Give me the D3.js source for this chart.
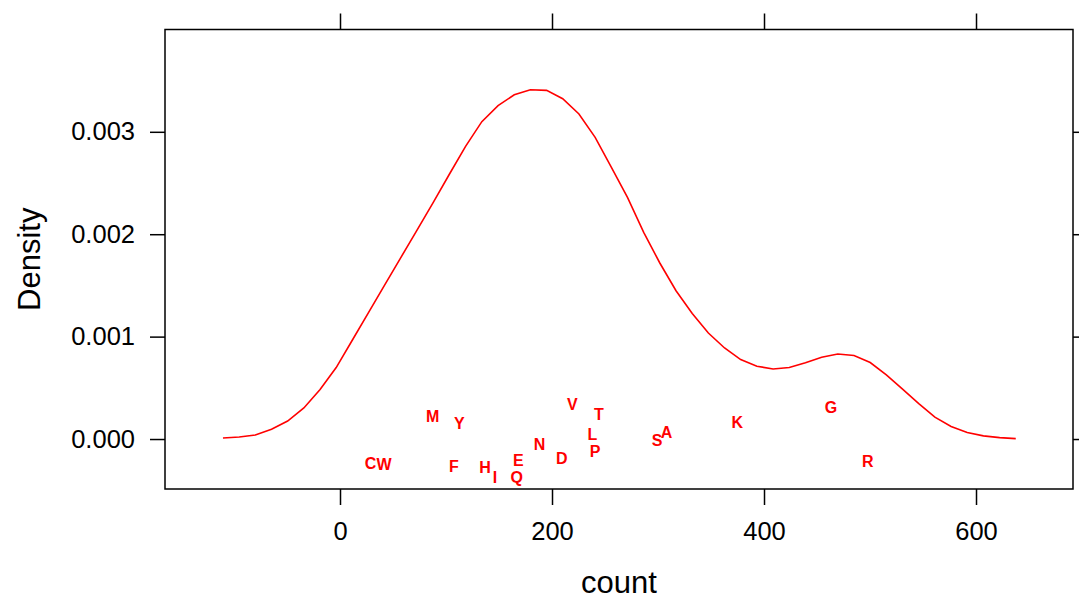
<!DOCTYPE html>
<html>
<head>
<meta charset="utf-8">
<script src="https://cdn.jsdelivr.net/npm/d3@7"></script>
<style>
  html, body { margin: 0; padding: 0; background: #fff; }
  text { font-family: "Liberation Sans", Arial, Helvetica, sans-serif; }
</style>
</head>
<body>
<div id="chart"></div>
<script>
// density curve (count, density)
const curveCount = [
  -110.4, -95.1, -79.9, -64.6, -49.4, -34.1, -18.8, -3.6, 11.7, 27.0,
  42.2, 57.5, 72.8, 88.0, 103.3, 118.6, 133.8, 149.1, 164.4, 179.6,
  194.9, 210.1, 225.4, 240.7, 255.9, 271.2, 286.5, 301.7, 317.0, 332.3,
  347.5, 362.8, 378.0, 393.3, 408.6, 423.8, 439.1, 454.4, 469.6, 484.9,
  500.2, 515.4, 530.7, 546.0, 561.2, 576.5, 591.7, 607.0, 622.3, 637.5
];
const curveDensity = [
  0.00001, 0.00002, 0.00004, 0.000095, 0.000176, 0.000303, 0.000483, 0.000698, 0.000967, 0.001237,
  0.001506, 0.001774, 0.002043, 0.00231, 0.002588, 0.00286, 0.003099, 0.003255, 0.003362, 0.003411,
  0.003405, 0.003323, 0.003174, 0.002946, 0.002656, 0.002359, 0.002018, 0.001719, 0.001448, 0.001226,
  0.001035, 0.000889, 0.000776, 0.000711, 0.000684, 0.000699, 0.000745, 0.000799, 0.00083, 0.000815,
  0.000747, 0.000627, 0.000488, 0.000346, 0.000213, 0.000122, 0.000063, 0.000031, 0.000014, 0.000004
];

// labelled points (letter, count, jittered height)
const letters = ['C', 'W', 'M', 'Y', 'F', 'H', 'I', 'Q', 'E', 'N', 'D', 'V', 'T', 'L', 'P', 'S', 'A', 'K', 'G', 'R'];
const letterCount = [28.8, 41.6, 87.5, 112.6, 107.5, 136.8, 146.2, 166.7, 168.2, 188.2,
  209.2, 219.2, 244.3, 238.0, 240.6, 299.2, 308.0, 374.8, 463.2, 497.8];
const letterJitter = [-0.000238, -0.000245, 0.000225, 0.000153, -0.00027, -0.00028, -0.000374, -0.000378, -0.000205, -0.000049,
  -0.000189, 0.000342, 0.000241, 0.000046, -0.000124, -0.00001, 0.000065, 0.000163, 0.00031, -0.000215];

const xTicks = [0, 200, 400, 600];
const yTicks = [0, 0.001, 0.002, 0.003];

const WIDTH = 1079;
const HEIGHT = 601;
const LEFT = 165;
const RIGHT = 1073;
const TOP = 29.5;
const BOTTOM = 489;

const svg = d3.create('svg').attr('width', WIDTH).attr('height', HEIGHT);

const xScale = d3.scaleLinear().domain([-165.1, 691.5]).range([LEFT, RIGHT]);
const yScale = d3.scaleLinear().domain([-0.000488, 0.003999]).range([BOTTOM, TOP]);

const tickFont = '25.5px';

const styleAxis = (g) => {
  g.select('.domain').remove();
  g.selectAll('.tick line').attr('stroke', '#000').attr('stroke-width', 1.5);
  g.selectAll('.tick text').attr('fill', '#000').style('font-size', tickFont);
};

svg.append('g')
  .attr('transform', `translate(${LEFT}, 0)`)
  .call(d3.axisLeft(yScale).tickValues(yTicks).tickFormat(d3.format('.3f')).tickSize(15).tickPadding(15))
  .call(styleAxis);

svg.append('g')
  .attr('transform', `translate(0, ${BOTTOM})`)
  .call(d3.axisBottom(xScale).tickValues(xTicks).tickFormat(d3.format('d')).tickSize(16).tickPadding(17))
  .call(styleAxis);

svg.append('g')
  .attr('transform', `translate(0, ${TOP})`)
  .call(d3.axisTop(xScale).tickValues(xTicks).tickFormat('').tickSize(16))
  .call(styleAxis);

svg.append('g')
  .attr('transform', `translate(${RIGHT}, 0)`)
  .call(d3.axisRight(yScale).tickValues(yTicks).tickFormat('').tickSize(16))
  .call(styleAxis);

svg.append('rect')
  .attr('x', LEFT)
  .attr('y', TOP)
  .attr('width', RIGHT - LEFT)
  .attr('height', BOTTOM - TOP)
  .attr('fill', 'none')
  .attr('stroke', '#000')
  .attr('stroke-width', 1.5);

const line = d3.line()
  .x((d, i) => xScale(curveCount[i]))
  .y((d) => yScale(d));

svg.append('path')
  .datum(curveDensity)
  .attr('d', line)
  .attr('fill', 'none')
  .attr('stroke', '#ff0000')
  .attr('stroke-width', 1.6);

svg.selectAll('text.letter')
  .data(letters)
  .join('text')
  .attr('class', 'letter')
  .attr('x', (d, i) => xScale(letterCount[i]))
  .attr('y', (d, i) => yScale(letterJitter[i]))
  .attr('dy', '0.36em')
  .attr('text-anchor', 'middle')
  .attr('fill', '#ff0000')
  .style('font-size', '16px')
  .style('font-weight', 'bold')
  .text((d) => d);

svg.append('text')
  .attr('x', (LEFT + RIGHT) / 2)
  .attr('y', 593)
  .attr('text-anchor', 'middle')
  .style('font-size', '31px')
  .text('count');

svg.append('text')
  .attr('transform', `translate(40, ${(TOP + BOTTOM) / 2}) rotate(-90)`)
  .attr('text-anchor', 'middle')
  .style('font-size', '31px')
  .text('Density');

document.getElementById('chart').appendChild(svg.node());
</script>
</body>
</html>
